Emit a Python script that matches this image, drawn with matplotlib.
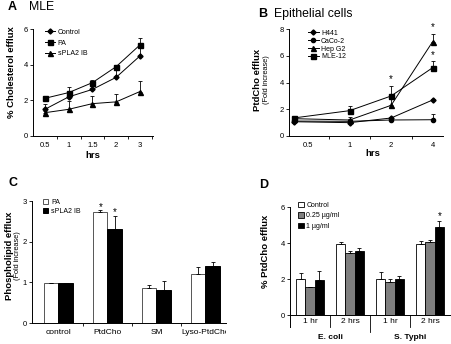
import matplotlib
matplotlib.use('Agg')
import matplotlib.pyplot as plt
import numpy as np
from matplotlib.transforms import Bbox

plt.rcParams['font.family'] = ['Liberation Sans', 'DejaVu Sans']
plt.rcParams['axes.linewidth'] = 0.7
plt.rcParams['xtick.major.width'] = 0.6
plt.rcParams['ytick.major.width'] = 0.6
plt.rcParams['xtick.minor.width'] = 0.6
plt.rcParams['xtick.labelsize'] = 5.5
plt.rcParams['ytick.labelsize'] = 5.5

# ---- data ----
# A: MLE cholesterol efflux
a_hrs = ['0.5', '1', '1.5', '2', '3']
a_control = [1.5, 2.2, 2.62, 3.3, 4.5]
a_control_err = [0.3, 0.2, 0.1, 0.6, 0.65]
a_pa = [2.12, 2.44, 3.0, 3.9, 5.12]
a_pa_err = [0.12, 0.3, 0.15, 0.1, 0.38]
a_spla2 = [1.31, 1.5, 1.82, 1.92, 2.5]
a_spla2_err = [0.08, 0.45, 0.45, 0.43, 0.62]

# B: epithelial cells PtdCho efflux
b_hrs = ['0.5', '1', '2', '4']
b_xpos = [-0.35, 1, 2, 3]
b_h441 = [1.07, 1.0, 1.35, 2.7]
b_h441_err = [0.05, 0.1, 0.1, 0.08]
b_caco2 = [1.12, 1.1, 1.2, 1.22]
b_caco2_err = [0.05, 0.3, 0.15, 0.45]
b_hepg2 = [1.3, 1.2, 2.3, 7.07]
b_hepg2_err = [0.08, 0.1, 0.45, 0.6]
b_mle12 = [1.35, 1.9, 3.0, 5.12]
b_mle12_err = [0.08, 0.35, 0.75, 0.5]
b_star_hrs = [2, 3, 3]
b_star_y = [4.25, 8.2, 6.05]

# C: phospholipid efflux
c_cats = ['control', 'PtdCho', 'SM', 'Lyso-PtdCho']
c_pa = [0.98, 2.72, 0.87, 1.2]
c_pa_err = [0.0, 0.06, 0.07, 0.17]
c_spla2 = [0.98, 2.32, 0.8, 1.4]
c_spla2_err = [0.0, 0.32, 0.24, 0.1]
c_star = [False, True, False, False]

# D: bacteria PtdCho efflux
d_times = ['1 hr', '2 hrs', '1 hr', '2 hrs']
d_species = ['E. coli', 'S. Typhi']
d_control = [1.99, 3.92, 1.99, 3.92]
d_control_err = [0.33, 0.16, 0.4, 0.18]
d_low = [1.55, 3.42, 1.82, 4.03]
d_low_err = [0.0, 0.16, 0.16, 0.12]
d_high = [1.94, 3.57, 2.0, 4.87]
d_high_err = [0.5, 0.13, 0.14, 0.33]
d_star = [False, False, False, True]

W, H = 452, 344
fig = plt.figure(figsize=(W / 100, H / 100), dpi=100)


def px_axes(l, t, r, b):
    return fig.add_axes([l / W, 1 - b / H, (r - l) / W, (b - t) / H])


def px_text(x, y, s, **kw):
    return fig.text(x / W, 1 - y / H, s, **kw)


def style(ax):
    for s in ['top', 'right']:
        ax.spines[s].set_visible(False)
    ax.tick_params(axis='y', length=2, pad=1.5)


def err_line(ax, x, y, e, marker, ms):
    ax.errorbar(x, y, yerr=[np.zeros(len(e)), e], color='black', lw=0.7,
                marker=marker, ms=ms, mfc='black', mec='black',
                elinewidth=0.6, capsize=1.3, capthick=0.6)


# ===== A =====
axA = px_axes(33, 29.3, 153, 136)
style(axA)
xa = np.arange(len(a_hrs))
err_line(axA, xa, a_control, a_control_err, 'D', 2.6)
err_line(axA, xa, a_pa, a_pa_err, 's', 3.6)
err_line(axA, xa, a_spla2, a_spla2_err, '^', 3.6)
axA.set_xlim(-0.5, 4.55)
axA.set_ylim(0, 6)
axA.set_yticks([0, 2, 4, 6])
axA.set_xticks(xa)
axA.set_xticklabels(a_hrs)
axA.tick_params(axis='x', which='major', length=0, pad=4.5)
axA.set_xticks(xa + 0.5, minor=True)
axA.tick_params(axis='x', which='minor', length=2, direction='out')
hA = [plt.Line2D([], [], color='black', lw=0.7, marker=m, ms=s)
      for m, s in [('D', 2.6), ('s', 3.6), ('^', 3.6)]]
axA.legend(hA, ['Control', 'PA', 'sPLA2 IB'], loc='upper left',
           bbox_to_anchor=(0.06, 1.05), frameon=False, fontsize=5,
           handlelength=1.5, handletextpad=0.3, labelspacing=0.55, borderpad=0.2)
px_text(8, 7, 'A', fontsize=9, fontweight='bold', va='center')
px_text(29, 7, 'MLE', fontsize=8.8, va='center')
px_text(12, 72, '% Cholesterol efflux', fontsize=6.8, fontweight='bold',
        rotation=90, ha='center', va='center')
px_text(93, 155, 'hrs', fontsize=6.8, fontweight='bold', ha='center', va='center')

# ===== B =====
axB = px_axes(289, 29.3, 443, 136)
style(axB)
err_line(axB, b_xpos, b_h441, b_h441_err, 'D', 2.6)
err_line(axB, b_xpos, b_caco2, b_caco2_err, 'o', 3.0)
err_line(axB, b_xpos, b_hepg2, b_hepg2_err, '^', 3.6)
err_line(axB, b_xpos, b_mle12, b_mle12_err, 's', 3.6)
for xs, ys in zip(b_star_hrs, b_star_y):
    axB.text(xs, ys, '*', ha='center', va='center', fontsize=7)
xb = np.arange(len(b_hrs))
axB.set_xlim(-0.46, 3.25)
axB.set_ylim(0, 8)
axB.set_yticks([0, 2, 4, 6, 8])
axB.set_xticks(xb)
axB.set_xticklabels(b_hrs)
axB.tick_params(axis='x', which='major', length=0, pad=4.5)
axB.set_xticks(xb[:-1] + 0.5, minor=True)
axB.tick_params(axis='x', which='minor', length=2, direction='out')
hB = [plt.Line2D([], [], color='black', lw=0.7, marker=m, ms=s)
      for m, s in [('D', 2.6), ('o', 3.0), ('^', 3.6), ('s', 3.6)]]
axB.legend(hB, ['H441', 'CaCo-2', 'Hep G2', 'MLE-12'], loc='upper left',
           bbox_to_anchor=(0.09, 1.04), frameon=False, fontsize=5,
           handlelength=1.6, handletextpad=0.3, labelspacing=0.12, borderpad=0.2)
px_text(258, 14, 'B', fontsize=9, fontweight='bold', va='center')
px_text(274, 14, 'Epithelial cells', fontsize=8.8, va='center')
px_text(258, 80, 'PtdCho efflux', fontsize=6.8, fontweight='bold',
        rotation=90, ha='center', va='center')
px_text(266, 80, '(Fold increase)', fontsize=5.3,
        rotation=90, ha='center', va='center')
px_text(373, 153, 'hrs', fontsize=6.8, fontweight='bold', ha='center', va='center')

# ===== C =====
axC = px_axes(32, 201, 226, 323)
style(axC)
xc = np.arange(len(c_cats))
bw = 0.29
axC.bar(xc - bw / 2, c_pa, bw, color='white', edgecolor='#555555', lw=0.7,
        yerr=[np.zeros(4), c_pa_err], error_kw=dict(elinewidth=0.6, capsize=1.3, capthick=0.6),
        label='PA')
axC.bar(xc + bw / 2, c_spla2, bw, color='black', edgecolor='black', lw=0.7,
        yerr=[np.zeros(4), c_spla2_err], error_kw=dict(elinewidth=0.6, capsize=1.3, capthick=0.6),
        label='sPLA2 IB')
for i, s in enumerate(c_star):
    if s:
        axC.text(xc[i] - bw / 2, c_pa[i] + c_pa_err[i] + 0.08, '*', ha='center', va='center', fontsize=7)
        axC.text(xc[i] + bw / 2, c_spla2[i] + c_spla2_err[i] + 0.08, '*', ha='center', va='center', fontsize=7)
axC.set_xlim(-0.54, 3.42)
axC.set_ylim(0, 3)
axC.set_yticks([0, 1, 2, 3])
axC.set_xticks(xc)
axC.set_xticklabels(c_cats, fontsize=6)
axC.tick_params(axis='x', which='major', length=0, pad=4)
axC.set_xticks(xc[:-1] + 0.5, minor=True)
axC.tick_params(axis='x', which='minor', length=2.5, direction='out')
clip = Bbox.from_extents(0, 0, 226, H)
for lab in axC.get_xticklabels():
    lab.set_clip_box(clip)
    lab.set_clip_on(True)
axC.legend(loc='upper left', bbox_to_anchor=(0.03, 1.06), frameon=False, fontsize=5,
           handlelength=0.8, handleheight=0.8, handletextpad=0.4, labelspacing=0.3, borderpad=0.2)
px_text(9, 183, 'C', fontsize=9, fontweight='bold', va='center')
px_text(10, 256, 'Phospholipid efflux', fontsize=6.8, fontweight='bold',
        rotation=90, ha='center', va='center')
px_text(18, 256, '(Fold increase)', fontsize=5.3,
        rotation=90, ha='center', va='center')

# ===== D =====
axD = px_axes(290, 207, 452, 315)
style(axD)
xd = np.arange(len(d_times))
dw = 0.235
ekw = dict(elinewidth=0.6, capsize=1.2, capthick=0.6)
axD.bar(xd - dw, d_control, dw, color='white', edgecolor='black', lw=0.6,
        yerr=[np.zeros(4), d_control_err], error_kw=ekw, label='Control')
axD.bar(xd, d_low, dw, color='#7f7f7f', edgecolor='black', lw=0.6,
        yerr=[np.zeros(4), d_low_err], error_kw=ekw, label='0.25 µg/ml')
axD.bar(xd + dw, d_high, dw, color='black', edgecolor='black', lw=0.6,
        yerr=[np.zeros(4), d_high_err], error_kw=ekw, label='1 µg/ml')
for i, s in enumerate(d_star):
    if s:
        axD.text(xd[i] + dw, d_high[i] + d_high_err[i] + 0.3, '*', ha='center', va='center', fontsize=7)
axD.set_xlim(-0.5, 3.55)
axD.set_ylim(0, 6)
axD.set_yticks([0, 2, 4, 6])
axD.set_xticks(xd)
axD.set_xticklabels(d_times, fontsize=6)
axD.tick_params(axis='x', which='major', length=0, pad=2.5)
axD.spines['left'].set_bounds(0, 6)
# category separators below the axis
tr = axD.get_xaxis_transform()
for xs in [0.5, 2.5]:
    axD.plot([xs, xs], [0, -0.11], color='black', lw=0.6, transform=tr, clip_on=False)
axD.plot([1.5, 1.5], [0, -0.16], color='black', lw=0.6, transform=tr, clip_on=False)
axD.plot([-0.5, -0.5], [0, -0.11], color='black', lw=0.7, transform=tr, clip_on=False)
for j, sp in enumerate(d_species):
    axD.text(2 * j + 0.5, -0.21, sp, transform=tr, ha='center', va='center',
             fontsize=6, fontweight='bold')
axD.legend(loc='upper left', bbox_to_anchor=(0.02, 1.09), frameon=False, fontsize=5,
           handlelength=0.8, handleheight=0.8, handletextpad=0.4, labelspacing=0.45, borderpad=0.2)
px_text(259, 185, 'D', fontsize=9, fontweight='bold', va='center')
px_text(266, 251, '% PtdCho efflux', fontsize=6.8, fontweight='bold',
        rotation=90, ha='center', va='center')

fig.savefig('out.png', dpi=100)
